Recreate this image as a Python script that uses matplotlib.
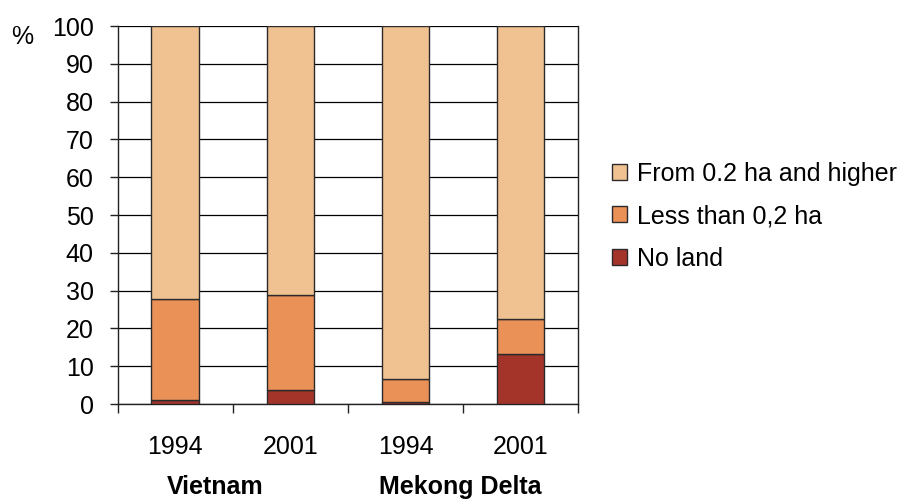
import matplotlib
matplotlib.use("Agg")
import matplotlib.pyplot as plt
import matplotlib.transforms as mtransforms
import numpy as np

plt.rcParams['font.family'] = ['Liberation Sans', 'DejaVu Sans']

years = ['1994', '2001', '1994', '2001']
regions = ['Vietnam', 'Mekong Delta']
no_land = [1.0, 3.8, 0.5, 13.3]
less_02 = [26.8, 25.1, 6.1, 9.1]
from_02 = [72.2, 71.1, 93.4, 77.6]

c_dark = '#A4342A'
c_mid = '#EA9157'
c_light = '#F1C291'

fs = 18

fig = plt.figure(figsize=(9.03, 5.01), dpi=100)
ax = fig.add_axes([0.1303, 0.1936, 0.5101, 0.7545])

x = np.arange(len(years))
w = 0.413
no_land = np.array(no_land)
less_02 = np.array(less_02)
from_02 = np.array(from_02)

ax.bar(x, no_land, w, color=c_dark, edgecolor='#2a2a2a', linewidth=1, label='No land', zorder=3)
ax.bar(x, less_02, w, bottom=no_land, color=c_mid, edgecolor='#2a2a2a', linewidth=1,
       label='Less than 0,2 ha', zorder=3)
ax.bar(x, from_02, w, bottom=no_land + less_02, color=c_light, edgecolor='#2a2a2a', linewidth=1,
       label='From 0.2 ha and higher', zorder=3)

ax.set_xlim(-0.5, 3.5)
ax.set_ylim(0, 100)
ax.set_yticks(range(0, 101, 10))
ax.yaxis.grid(True, color='black', linewidth=0.9, zorder=0)
ax.set_axisbelow(True)

ax.spines['top'].set_visible(False)
for s in ['left', 'right', 'bottom']:
    ax.spines[s].set_linewidth(1)
    ax.spines[s].set_color('#222222')

# years under each bar, region boundaries as minor ticks
ax.set_xticks(x)
ax.set_xticklabels(years)
ax.tick_params(axis='x', which='major', length=0, pad=22.3, labelsize=fs)
ax.set_xticks(np.arange(-0.5, 3.6, 1), minor=True)
ax.tick_params(axis='x', which='minor', length=6.5, width=1, color='#222222')
ax.tick_params(axis='y', length=5.8, width=1, color='#222222', labelsize=fs, pad=11.5)

# region labels near the bottom edge
trans = mtransforms.blended_transform_factory(ax.transData, fig.transFigure)
base_y = 1 - 494 / 501
ax.text(0.346, base_y, regions[0], transform=trans,
        ha='center', va='baseline', fontsize=fs, fontweight='bold')
ax.text(2.477, base_y, regions[1], transform=trans,
        ha='center', va='baseline', fontsize=fs, fontweight='bold')
fig.text(22 / 903, 1 - 37 / 501, '%', fontsize=fs, ha='center', va='center')

handles, labels = ax.get_legend_handles_labels()
leg = fig.legend(handles[::-1], labels[::-1], loc='center left',
                 bbox_to_anchor=(612 / 903, 1 - 216 / 501),
                 frameon=False, fontsize=fs, handlelength=0.6, handleheight=0.6,
                 handletextpad=0.4, labelspacing=0.74, borderpad=0, borderaxespad=0)

fig.savefig('out.png', dpi=100)
